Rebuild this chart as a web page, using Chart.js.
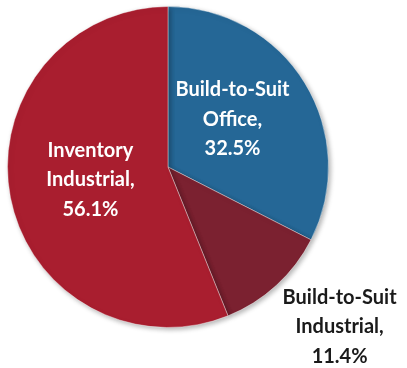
<!DOCTYPE html>
<html>
<head>
<meta charset="utf-8">
<script src="https://cdn.jsdelivr.net/npm/chart.js@4/dist/chart.umd.min.js"></script>
<style>
  html, body { margin: 0; padding: 0; background: #fff; }
  #wrap { width: 407px; height: 368px; position: relative; }
</style>
</head>
<body>
<div id="wrap"><canvas id="pie"></canvas></div>
<script>
// 分类与占比
const categories = ['Build-to-Suit Office', 'Build-to-Suit Industrial', 'Inventory Industrial'];
const shares = [32.5, 11.4, 56.1];
const sliceColors = ['#256796', '#7b2130', '#a91e2f'];

// 标签文本（按行）
const labelLines = [
    ['Build-to-Suit', 'Office,', '32.5%'],
    ['Build-to-Suit', 'Industrial,', '11.4%'],
    ['Inventory', 'Industrial,', '56.1%']
];
// 标签位置：相对半径、角度偏移（度）、颜色
const labelRadius = [0.5, 1.46, 0.49];
const labelAngleShift = [-5, -4.6, 1.5];
const labelColors = ['#ffffff', '#1a1a1a', '#ffffff'];

// 阴影
const shadowPlugin = {
    id: 'shadow',
    beforeDatasetsDraw(chart) {
        const ctx = chart.ctx;
        ctx.save();
        ctx.shadowColor = 'rgba(0,0,0,0.3)';
        ctx.shadowBlur = 5;
        ctx.shadowOffsetX = 2;
        ctx.shadowOffsetY = 2;
    },
    afterDatasetsDraw(chart) {
        chart.ctx.restore();
    }
};

// 扇区标签
const sliceLabels = {
    id: 'sliceLabels',
    afterDatasetsDraw(chart) {
        const ctx = chart.ctx;
        const meta = chart.getDatasetMeta(0);
        ctx.save();
        ctx.font = 'bold 20px Lato, "Open Sans", sans-serif';
        ctx.textAlign = 'center';
        ctx.textBaseline = 'middle';
        meta.data.forEach((arc, i) => {
            const p = arc.getProps(['x', 'y', 'startAngle', 'endAngle', 'outerRadius'], true);
            const mid = (p.startAngle + p.endAngle) / 2 + labelAngleShift[i] * Math.PI / 180;
            const r = p.outerRadius * labelRadius[i];
            const cx = p.x + Math.cos(mid) * r;
            const cy = p.y + Math.sin(mid) * r;
            const lines = labelLines[i];
            const lh = 29.5;
            ctx.fillStyle = labelColors[i];
            lines.forEach((t, k) => {
                ctx.fillText(t, cx, cy + (k - (lines.length - 1) / 2) * lh);
            });
        });
        ctx.restore();
    }
};

new Chart(document.getElementById('pie'), {
    type: 'pie',
    data: {
        labels: categories,
        datasets: [{
            data: shares,
            backgroundColor: sliceColors,
            borderColor: 'rgba(255,255,255,0.4)',
            borderWidth: 1
        }]
    },
    options: {
        responsive: true,
        maintainAspectRatio: false,
        animation: false,
        layout: { padding: { left: 7, top: 6, right: 78, bottom: 40 } },
        plugins: {
            legend: { display: false },
            tooltip: { enabled: false }
        }
    },
    plugins: [shadowPlugin, sliceLabels]
});
</script>
</body>
</html>
